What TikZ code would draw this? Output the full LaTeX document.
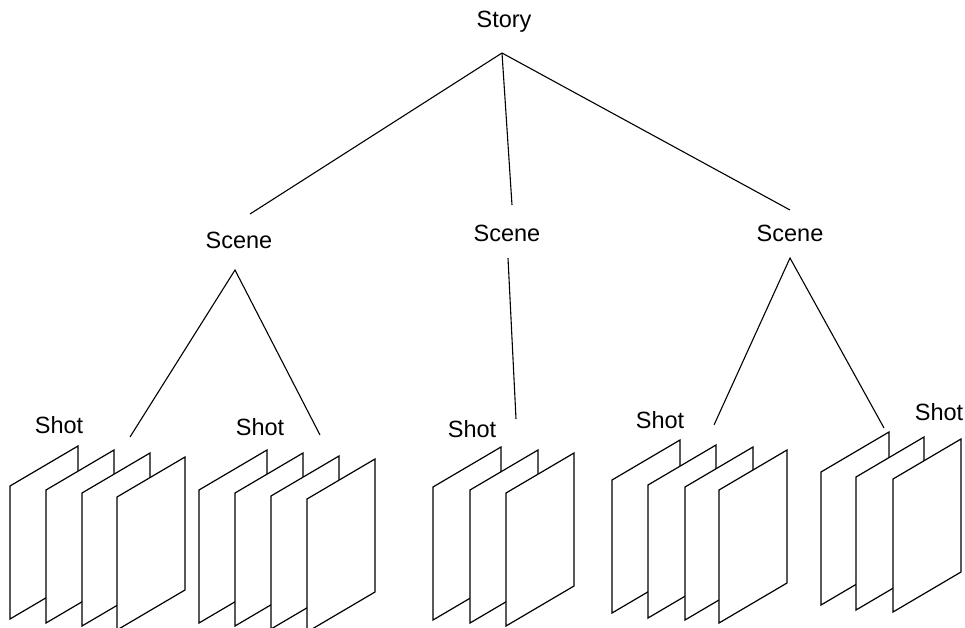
\documentclass[tikz,border=0pt]{standalone}
\usepackage{fontspec}
\setmainfont{Liberation Sans}
\newcommand\shotframe[2]{\filldraw[frm] (#1,#2) -- ++(68,-40) -- ++(0,133) -- ++(-68,40) -- cycle;}
\begin{document}
\begin{tikzpicture}[x=1pt,y=-1pt,
  lbl/.style={inner sep=0pt,anchor=base,font=\fontsize{23.5}{28}\selectfont},
  edge/.style={line width=1.1pt},
  frm/.style={fill=white,draw=black,line width=1.2pt,line join=miter}]
\useasboundingbox (0,0) rectangle (965,628);
\clip (0,0) rectangle (965,628);
% labels
\node[lbl] (story) at (504,28) {Story};
\node[lbl] (sceneA) at (239,248) {Scene};
\node[lbl] (sceneB) at (507,241) {Scene};
\node[lbl] (sceneC) at (790,241) {Scene};
\node[lbl] (shotA) at (59,433) {Shot};
\node[lbl] (shotB) at (260,435) {Shot};
\node[lbl] (shotC) at (472,437) {Shot};
\node[lbl] (shotD) at (660,428) {Shot};
\node[lbl] (shotE) at (939,420) {Shot};
% connector end points
\coordinate (st) at (502,53);
\coordinate (aT) at (250,214);
\coordinate (bT) at (512,205);
\coordinate (cT) at (790,210);
\coordinate (aB) at (235,270);
\coordinate (bB) at (508,258);
\coordinate (cB) at (790,258);
\coordinate (a1) at (130,437);
\coordinate (a2) at (320,435);
\coordinate (b1) at (516,419);
\coordinate (c1) at (714,425);
\coordinate (c2) at (884,428);
\draw[edge] (st) -- (aT);
\draw[edge] (st) -- (bT);
\draw[edge] (st) -- (cT);
\draw[edge] (a1) -- (aB) -- (a2);
\draw[edge] (bB) -- (b1);
\draw[edge] (c1) -- (cB) -- (c2);
% frames
\shotframe{10}{486}\shotframe{46}{490}\shotframe{82}{493}\shotframe{117}{497}
\shotframe{199}{490}\shotframe{235}{493}\shotframe{271}{496}\shotframe{307}{499}
\shotframe{433}{487}\shotframe{470}{490}\shotframe{506}{493}
\shotframe{612}{480}\shotframe{648}{485}\shotframe{685}{487}\shotframe{719}{490}
\shotframe{821}{472}\shotframe{856}{477}\shotframe{893}{479}
\end{tikzpicture}
\end{document}
